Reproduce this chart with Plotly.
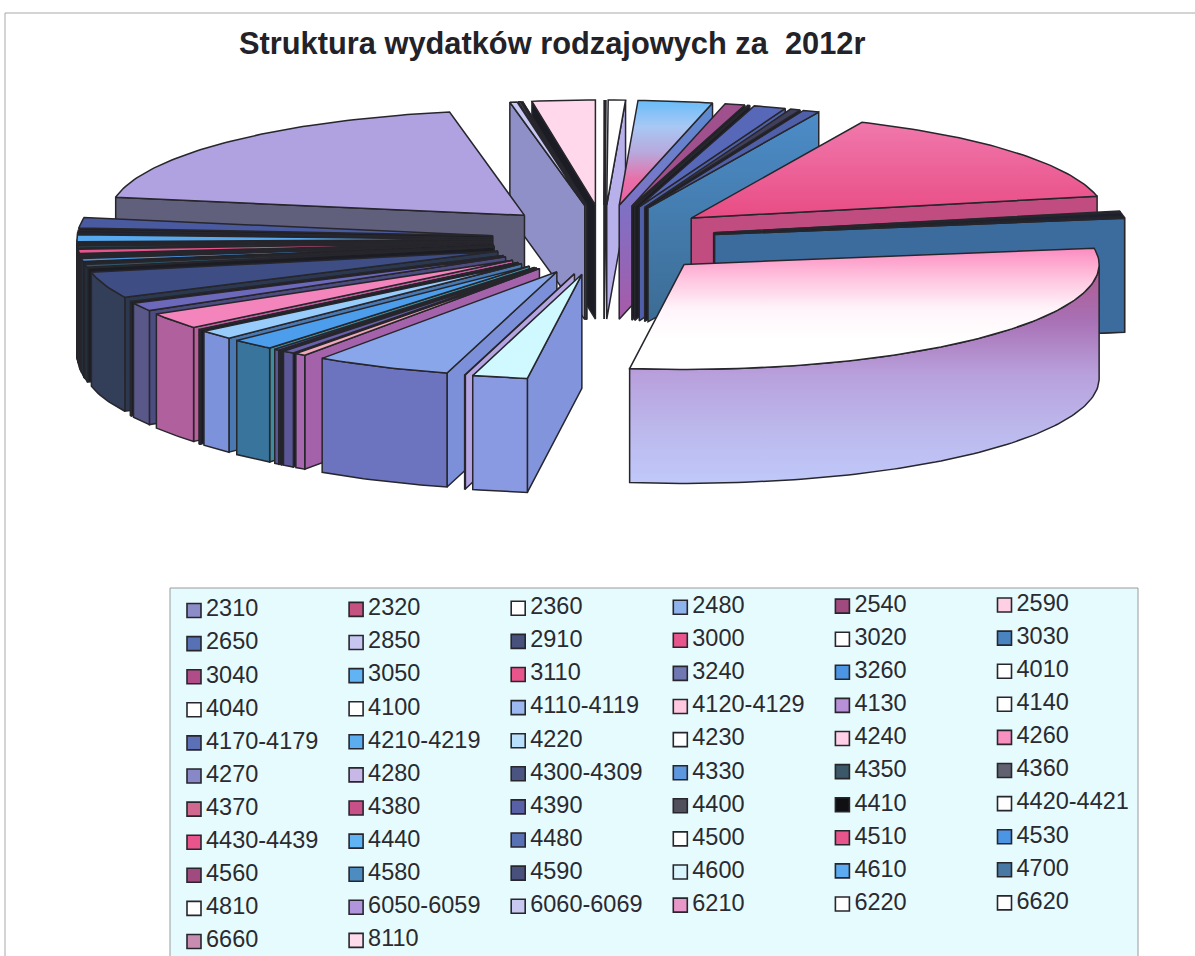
import math
import numpy as np
import plotly.graph_objects as go

TITLE = "Struktura wydatków rodzajowych za  2012r"

NAMES = ["2310","2320","2360","2480","2540","2590",
         "2650","2850","2910","3000","3020","3030",
         "3040","3050","3110","3240","3260","4010",
         "4040","4100","4110-4119","4120-4129","4130","4140",
         "4170-4179","4210-4219","4220","4230","4240","4260",
         "4270","4280","4300-4309","4330","4350","4360",
         "4370","4380","4390","4400","4410","4420-4421",
         "4430-4439","4440","4480","4500","4510","4530",
         "4560","4580","4590","4600","4610","4700",
         "4810","6050-6059","6060-6069","6210","6220","6620",
         "6660","8110"]

# Share of each category (total about 360)
VALUES = [0.1,0.1,2.4,10.4,2.8,0.3,
          4.5,1.4,2.3,53.7,0.4,2.2,
          0.1,0.1,0.1,0.1,0.1,106.5,
          7.7,0.1,19.1,1.5,1.7,0.4,
          0.7,6.1,5.1,0.15,0.15,8.9,
          4.6,0.3,14.4,0.1,1.6,0.1,
          0.1,0.1,0.1,0.1,0.1,0.1,
          0.1,1.7,1.0,0.6,2.3,1.2,
          0.2,0.5,0.2,0.2,3.8,1.6,
          5.7,69.7,1.0,0.3,0.1,0.1,
          0.1,8.8]

LEGEND_COLORS = ["#8c8cc8","#c4517f","#ffffff","#8fb4ec","#a04a80","#ffd0e4",
                 "#5870b4","#c6c6f0","#48507c","#e8558c","#ffffff","#4a84c0",
                 "#b04c88","#60b4f4","#e8558c","#7078b4","#4c94e4","#ffffff",
                 "#ffffff","#ffffff","#9cb8f0","#ffc8e0","#b890d8","#ffffff",
                 "#5c70b8","#5cacf0","#b8e0fc","#ffffff","#ffd0e8","#f890c0",
                 "#8888c8","#c8b8e8","#4a5480","#5c98e0","#3c5868","#606070",
                 "#d06890","#c85088","#5860a8","#50505c","#101014","#ffffff",
                 "#e8558c","#60b4f4","#5870b4","#ffffff","#e8558c","#4c94e4",
                 "#a04a80","#4c8cc0","#48507c","#d8f4fc","#5caaf0","#4878a4",
                 "#ffffff","#b094dc","#c8c8f0","#e898c8","#ffffff","#ffffff",
                 "#c88cb0","#ffdcec"]

# Colours of the faces of each slice.
# "a|b|c" is a gradient from the top of the face to its bottom.
TOP_COLORS = {"2360":"#ffffff","2480":"#68bcf8|#a8c8f4|#b8a8dc|#e870a8|#e860a4","2540":"#a0508c","2590":"#303040",
              "2650":"#5868b8","2850":"#40405c","2910":"#5060a8","3000":"#f078ac|#e84c84",
              "3020":"#ffffff","3030":"#1c2030","4010":"#fb8cc0|#ffc4de|#fff4fa|#ffffff|#ffffff",
              "4040":"#d0f8ff","4100":"#b4a4e0","4110-4119":"#8aa6ea","4120-4129":"#f0a8b8","4130":"#6860a8",
              "4140":"#2c2c40","4170-4179":"#5060a8","4210-4219":"#4c9eec","4220":"#98ccfa","4260":"#f484bc",
              "4270":"#6c68ba","4280":"#30304a","4300-4309":"#3e4e84","4350":"#2e5868","4440":"#4c94e0",
              "4510":"#e8558c","4530":"#2c5c6c","4580":"#38788c","4610":"#58aaf0","4700":"#1c2030",
              "4810":"#4a5aa0","6050-6059":"#b0a2e0","6060-6069":"#c8c8f4","6210":"#a868a8","8110":"#ffd8ec"}
WALL_COLORS = {"4010":"#b0588c|#a870b4|#b8a0dc|#bcb8ec|#c0c8fa","4040":"#8a9ae2","4100":"#b0a0e0",
               "4110-4119":"#6c74c0","4120-4129":"#a868b0","4130":"#5c5898","4170-4179":"#5c5898",
               "4210-4219":"#38749c","4220":"#7c92da","4260":"#b0609c","4270":"#5a5888","4300-4309":"#333e58",
               "4350":"#2c4858","4440":"#30506c","4610":"#33607c"}
CUT_COLORS = {"2360":"#b8b0ea","2480":"#5a8cd2|#8070c4|#a85aa8","2650":"#5060a8","2910":"#4c8cc8|#3c6c94",
              "3000":"#c04c80","3030":"#3c6c9e","3040":"#3c6c9e","3050":"#3c6c9e","3110":"#3c6c9e",
              "3240":"#3c6c9e","3260":"#3c6c9e","4040":"#8294dc","4100":"#b4a4e2","4110-4119":"#7c90da",
              "4120-4129":"#a462aa","4210-4219":"#3f8c9c","4220":"#4a78b0","4260":"#bc5e9a","4270":"#4c4c80",
              "4300-4309":"#2c3850","6050-6059":"#60607c","6060-6069":"#8f90c8","6210":"#b080b8"}
DEFAULT_TOP = "#24242e"
DEFAULT_WALL = "#20222c"
DEFAULT_CUT = "#1c1c24"

# Drawing frame of the pie (pixels of the page)
CX, CY, RX, RY, DEPTH, EX, EY = 604, 240, 415, 105, 114, 112, 35
INK = "#26262c"


def gradient(spec):
    stops = spec.split("|")
    if len(stops) == 1:
        return dict(fillcolor=spec)
    # the page axis runs downwards, so the scale is laid out from the bottom up
    scale = [[i / (len(stops) - 1), c] for i, c in enumerate(reversed(stops))]
    return dict(fillgradient=dict(type="vertical", colorscale=scale))


def face(xs, ys, spec, name):
    return go.Scatter(x=xs, y=ys, mode="lines", fill="toself", name=name, showlegend=False,
                      line=dict(color=INK, width=1.5), hoverinfo="name", **gradient(spec))


def arc(a0, a1):
    n = max(2, int(abs(a1 - a0)) + 2)
    return np.radians(np.linspace(a0, a1, n))


fig = go.Figure()
total = sum(VALUES)
edges = np.concatenate([[0], np.cumsum(VALUES)]) * 360.0 / total

slices = []
for i, name in enumerate(NAMES):
    slices.append((name, edges[i], edges[i + 1]))
slices.sort(key=lambda s: -math.cos(math.radians((s[1] + s[2]) / 2)))

for name, a0, a1 in slices:
    mid = math.radians((a0 + a1) / 2)
    ax = CX + EX * math.sin(mid)
    ay = CY - EY * math.cos(mid)
    top_c = TOP_COLORS.get(name, DEFAULT_TOP)
    wall_c = WALL_COLORS.get(name, DEFAULT_WALL)
    cut_c = CUT_COLORS.get(name, DEFAULT_CUT)

    def outer(t):
        return ax + RX * math.sin(t), ay - RY * math.cos(t)

    # cut faces that look towards the viewer
    if 0 <= a1 <= 180:
        ox, oy = outer(math.radians(a1))
        fig.add_trace(face([ax, ox, ox, ax, ax], [ay, oy, oy + DEPTH, ay + DEPTH, ay], cut_c, name))
    if 180 <= a0 <= 360:
        ox, oy = outer(math.radians(a0))
        fig.add_trace(face([ax, ox, ox, ax, ax], [ay, oy, oy + DEPTH, ay + DEPTH, ay], cut_c, name))
    # outer wall
    w0, w1 = max(a0, 90), min(a1, 270)
    if w1 > w0:
        pts = [outer(t) for t in arc(w0, w1)]
        xs = [p[0] for p in pts] + [p[0] for p in reversed(pts)] + [pts[0][0]]
        ys = [p[1] for p in pts] + [p[1] + DEPTH for p in reversed(pts)] + [pts[0][1]]
        fig.add_trace(face(xs, ys, wall_c, name))
    # top
    pts = [outer(t) for t in arc(a0, a1)]
    xs = [ax] + [p[0] for p in pts] + [ax]
    ys = [ay] + [p[1] for p in pts] + [ay]
    fig.add_trace(face(xs, ys, top_c, name))

# Legend grid
COLS = 6
lx = [194 + 162.1 * (i % COLS) for i in range(len(NAMES))]
ly = [610.5 + 33.1 * (i // COLS) - 1.1 * (i % COLS) for i in range(len(NAMES))]
fig.add_trace(go.Scatter(x=lx, y=ly, mode="markers", showlegend=False, hoverinfo="skip", cliponaxis=False,
                         marker=dict(symbol="square", size=14, color=LEGEND_COLORS,
                                     line=dict(color="#26262c", width=1.6))))
fig.add_trace(go.Scatter(x=[v + 12 for v in lx], y=ly, mode="text", text=NAMES, textposition="middle right",
                         showlegend=False, hoverinfo="text", cliponaxis=False,
                         textfont=dict(family="Liberation Sans, Arial", size=23.5, color="#2a2a30")))

fig.add_shape(type="rect", x0=170, x1=1138, y0=588, y1=970, layer="below",
              fillcolor="#e6fbfd", line=dict(color="#9a9a9a", width=1))
fig.add_shape(type="line", x0=5, x1=1195, y0=13, y1=13, layer="below", line=dict(color="#a8a8a8", width=1))
fig.add_shape(type="line", x0=5, x1=5, y0=13, y1=956, layer="below", line=dict(color="#a8a8a8", width=1))

fig.add_annotation(x=237, y=43, xref="x", yref="y", xanchor="left", yanchor="middle", showarrow=False,
                   text="<b>" + TITLE + "</b>",
                   font=dict(family="Liberation Sans, Arial", size=30.8, color="#222228"))

fig.update_layout(width=1195, height=956, margin=dict(l=0, r=0, t=0, b=0),
                  paper_bgcolor="white", plot_bgcolor="white", showlegend=False,
                  xaxis=dict(range=[0, 1195], visible=False, fixedrange=True),
                  yaxis=dict(range=[956, 0], visible=False, fixedrange=True))
fig.write_html("out.html", post_script="document.body.style.margin='0';document.body.style.overflow='hidden';",
               config=dict(displayModeBar=False))
